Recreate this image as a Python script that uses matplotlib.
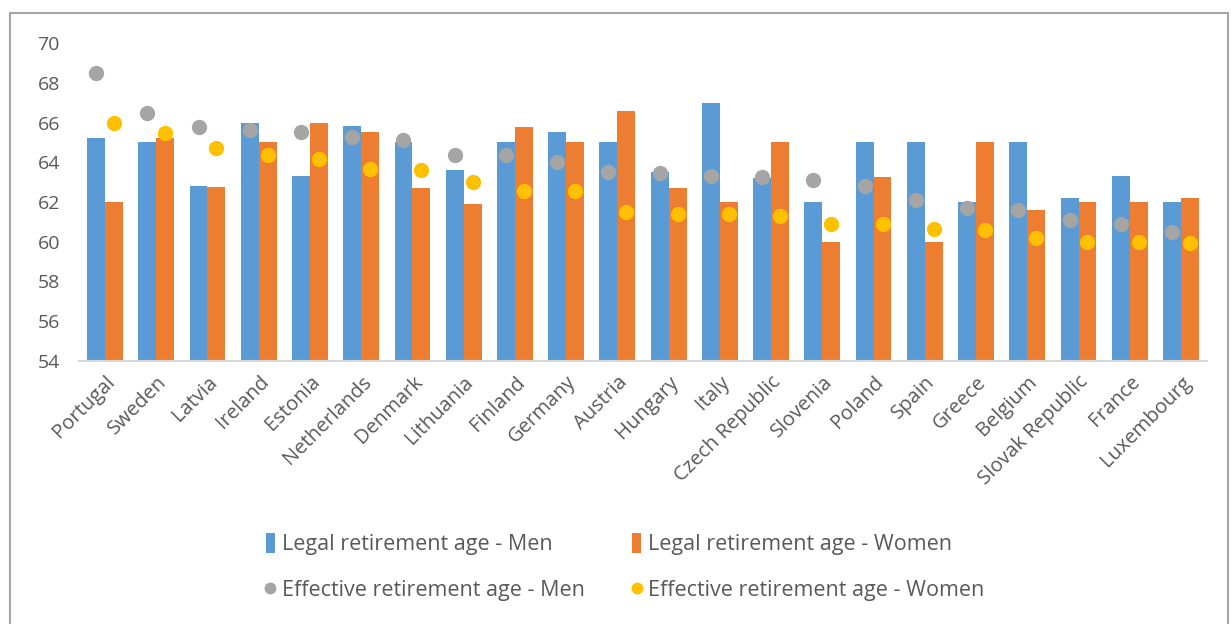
import numpy as np
import matplotlib.pyplot as plt
from matplotlib.patches import Rectangle

countries = ['Portugal', 'Sweden', 'Latvia', 'Ireland', 'Estonia', 'Netherlands',
             'Denmark', 'Lithuania', 'Finland', 'Germany', 'Austria', 'Hungary',
             'Italy', 'Czech Republic', 'Slovenia', 'Poland', 'Spain', 'Greece',
             'Belgium', 'Slovak Republic', 'France', 'Luxembourg']

legal_men = [65.2, 65.0, 62.8, 66.0, 63.3, 65.8, 65.0, 63.6, 65.0, 65.5, 65.0,
             63.5, 67.0, 63.2, 62.0, 65.0, 65.0, 62.0, 65.0, 62.2, 63.3, 62.0]
legal_women = [62.0, 65.2, 62.75, 65.0, 66.0, 65.5, 62.7, 61.9, 65.75, 65.0, 66.6,
               62.7, 62.0, 65.0, 60.0, 63.25, 60.0, 65.0, 61.6, 62.0, 62.0, 62.2]
eff_men = [68.5, 66.5, 65.75, 65.6, 65.5, 65.25, 65.1, 64.35, 64.35, 64.0, 63.5,
           63.45, 63.3, 63.25, 63.1, 62.8, 62.1, 61.7, 61.6, 61.1, 60.9, 60.5]
eff_women = [66.0, 65.45, 64.7, 64.35, 64.15, 63.65, 63.6, 63.03, 62.55, 62.55, 61.5,
             61.4, 61.4, 61.3, 60.87, 60.87, 60.65, 60.6, 60.2, 60.0, 60.0, 59.95]

blue = '#5b9bd5'
orange = '#ed7d31'
grey = '#a5a5a5'
yellow = '#ffc000'
txt = '#595959'

plt.rcParams['font.family'] = ['Open Sans', 'DejaVu Sans']

fig = plt.figure(figsize=(12.31, 6.24), dpi=100)
ax = fig.add_axes([79.4 / 1231, 1 - 361 / 624, (1206.6 - 79.4) / 1231, (361 - 43) / 624])

x = np.arange(len(countries))
w = 0.35
b1 = ax.bar(x - w / 2, legal_men, w, color=blue, zorder=2)
b2 = ax.bar(x + w / 2, legal_women, w, color=orange, zorder=2)
p1, = ax.plot(x - w / 2, eff_men, 'o', color=grey, markersize=10, zorder=3)
p2, = ax.plot(x + w / 2, eff_women, 'o', color=yellow, markersize=10, zorder=3)

ax.set_ylim(54, 70)
ax.set_yticks(range(54, 71, 2))
ax.set_xlim(-0.5, len(countries) - 0.5)
ax.set_xticks(x)
ax.set_xticklabels(countries, rotation=45, ha='right', rotation_mode='anchor', color=txt, fontsize=14.5)
ax.tick_params(axis='y', labelsize=14, colors=txt, length=0, pad=14)
ax.tick_params(axis='x', length=0, pad=8)
for s in ['top', 'right', 'left']:
    ax.spines[s].set_visible(False)
ax.spines['bottom'].set_color('#d9d9d9')
ax.spines['bottom'].set_linewidth(1.5)

# legenda: fila 1 legal, fila 2 efectiva
fig.legend([b1, p1, b2, p2],
           ['Legal retirement age - Men', 'Effective retirement age - Men',
            'Legal retirement age - Women', 'Effective retirement age - Women'],
           ncol=2, loc='center', bbox_to_anchor=(0.508, 0.091), frameon=False,
           fontsize=15.5, labelcolor=txt, handlelength=0.4, handleheight=1.0,
           handletextpad=0.35, columnspacing=2.2, labelspacing=1.1, markerscale=0.75)

fig.patches.append(Rectangle((10 / 1231, -0.05), 1218 / 1231, 1.05 - 13 / 624,
                             transform=fig.transFigure, fill=False,
                             edgecolor='#a6a6a6', linewidth=1.5))

fig.savefig('out.png', dpi=100, facecolor='white')
